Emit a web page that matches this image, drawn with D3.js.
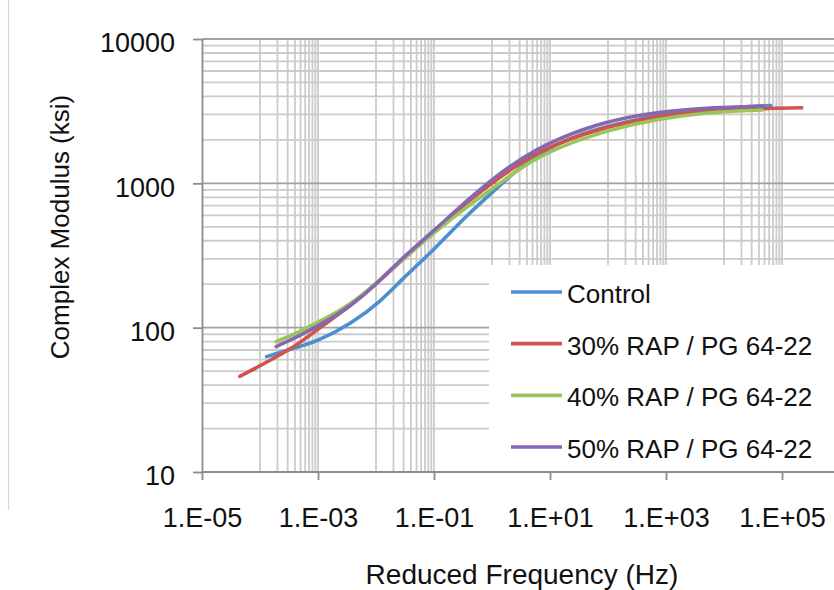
<!DOCTYPE html>
<html>
<head>
<meta charset="utf-8">
<script src="https://cdn.jsdelivr.net/npm/d3@7"></script>
<style>
    body { margin: 0; background: #fff; }
    svg { display: block; font-family: "Liberation Sans", Arial, Helvetica, sans-serif; }
    .gridMinor { stroke: #cbcbcb; stroke-width: 1.8; }
    .gridMajor { stroke: #a0a0a0; stroke-width: 1.8; }
    .axis path, .axis line { stroke: #8c8c8c; stroke-width: 1.8; }
    .axis text { fill: #111; }
    .curve { fill: none; stroke-width: 3.6; stroke-linecap: round; stroke-linejoin: round; }
</style>
</head>
<body>
<script>
(function () {
    //series names and colours
    var seriesNames = ["Control", "30% RAP / PG 64-22", "40% RAP / PG 64-22", "50% RAP / PG 64-22"];
    var seriesColors = ["#4c8fd0", "#d0544b", "#9cc45a", "#8668b0"];

    //reduced frequency (Hz) and complex modulus (ksi)
    var controlFreq = [1.3e-4, 3.8e-4, 9.5e-4, 3.6e-3, 0.013, 0.026, 0.10, 0.37, 1.4, 5.2, 38, 270, 2000, 14000, 64000];
    var controlModulus = [63, 72, 80, 105, 156, 211, 346, 604, 975, 1574, 2270, 2748, 3170, 3357, 3460];

    var rap30Freq = [4.5e-5, 3.8e-4, 9.5e-4, 3.6e-3, 0.013, 0.044, 0.097, 0.37, 1.4, 5.2, 38, 270, 2000, 14000, 220000];
    var rap30Modulus = [46, 72, 97, 140, 220, 346, 460, 743, 1110, 1615, 2220, 2730, 3090, 3260, 3340];

    var rap40Freq = [1.9e-4, 4.9e-4, 1.2e-3, 3.6e-3, 0.010, 0.026, 0.097, 0.37, 1.4, 5.2, 38, 270, 2000, 14000, 45000];
    var rap40Modulus = [80, 94, 113, 144, 203, 286, 451, 690, 1007, 1493, 2081, 2589, 2976, 3170, 3220];

    var rap50Freq = [1.9e-4, 4.9e-4, 1.2e-3, 3.6e-3, 0.010, 0.026, 0.097, 0.37, 1.4, 5.2, 38, 270, 2000, 14000, 47500];
    var rap50Modulus = [74, 88, 107, 140, 198, 295, 465, 762, 1188, 1700, 2420, 2950, 3260, 3365, 3436];

    //axis ticks
    var xTicks = [1e-5, 1e-3, 1e-1, 1e1, 1e3, 1e5];
    var yTicks = [10, 100, 1000, 10000];

    var width = 834,
        height = 590;

    var svg = d3.select("body")
        .append("svg")
        .attr("width", width)
        .attr("height", height);

    //log scales
    var x = d3.scaleLog()
        .domain([1e-5, 1e6])
        .range([202, 840]);
    var y = d3.scaleLog()
        .domain([10, 10000])
        .range([472, 39]);

    //faint chart-area border on the left
    svg.append("line")
        .attr("x1", 8.5).attr("x2", 8.5)
        .attr("y1", 0).attr("y2", 510)
        .style("stroke", "#d6d6d6")
        .style("stroke-width", 1.2);

    //horizontal minor gridlines (2..9 in each decade)
    var yMinor = [];
    for (var e = 1; e <= 3; e++) {
        for (var k = 2; k <= 9; k++) yMinor.push(k * Math.pow(10, e));
    }
    svg.selectAll(".hMinor")
        .data(yMinor)
        .enter()
        .append("line")
        .attr("class", "gridMinor")
        .attr("x1", x(1e-5)).attr("x2", width)
        .attr("y1", function (d) { return y(d); })
        .attr("y2", function (d) { return y(d); });

    //vertical gridlines: only in every other decade, like the original
    var xMinor = [];
    [-4, -2, 0, 2, 4].forEach(function (p) {
        for (var k = 1; k <= 10; k++) xMinor.push(k * Math.pow(10, p));
    });
    svg.selectAll(".vMinor")
        .data(xMinor)
        .enter()
        .append("line")
        .attr("class", "gridMinor")
        .attr("x1", function (d) { return x(d); })
        .attr("x2", function (d) { return x(d); })
        .attr("y1", y(10000)).attr("y2", y(10));

    //horizontal major gridlines
    svg.selectAll(".hMajor")
        .data(yTicks)
        .enter()
        .append("line")
        .attr("class", "gridMajor")
        .attr("x1", x(1e-5)).attr("x2", width)
        .attr("y1", function (d) { return y(d); })
        .attr("y2", function (d) { return y(d); });

    //x axis
    var xAxis = d3.axisBottom(x)
        .tickValues(xTicks)
        .tickSize(8)
        .tickSizeOuter(0)
        .tickPadding(28)
        .tickFormat(function (d) {
            var p = Math.round(Math.log10(d));
            var s = p < 0 ? "-" : "+";
            var a = Math.abs(p);
            return "1.E" + s + (a < 10 ? "0" : "") + a;
        });
    svg.append("g")
        .attr("class", "axis")
        .attr("transform", "translate(0," + y(10) + ")")
        .call(xAxis)
        .selectAll("text")
        .style("font-size", "27px");
    svg.select(".axis path").attr("d", "M" + x(1e-5) + ",0H" + width);

    //y axis
    var yAxis = d3.axisLeft(y)
        .tickValues(yTicks)
        .tickSize(9)
        .tickSizeOuter(0)
        .tickPadding(18)
        .tickFormat(d3.format("d"));
    svg.append("g")
        .attr("class", "axis")
        .attr("transform", "translate(" + x(1e-5) + ",0)")
        .call(yAxis)
        .selectAll("text")
        .attr("dy", "0.48em")
        .style("font-size", "27px");

    //build series from the arrays
    var freqs = [controlFreq, rap30Freq, rap40Freq, rap50Freq];
    var mods = [controlModulus, rap30Modulus, rap40Modulus, rap50Modulus];
    var series = seriesNames.map(function (name, i) {
        return {
            name: name,
            color: seriesColors[i],
            values: freqs[i].map(function (f, j) { return { f: f, m: mods[i][j] }; })
        };
    });

    //smoothed lines like the spreadsheet's
    var line = d3.line()
        .x(function (d) { return x(d.f); })
        .y(function (d) { return y(d.m); })
        .curve(d3.curveBasis);

    svg.selectAll(".curve")
        .data(series)
        .enter()
        .append("path")
        .attr("class", "curve")
        .attr("d", function (d) { return line(d.values); })
        .style("stroke", function (d) { return d.color; });

    //legend box covers the gridlines
    var legend = svg.append("g");
    legend.append("rect")
        .attr("x", 489).attr("y", 265)
        .attr("width", width - 489).attr("height", 206)
        .style("fill", "#fff");

    var legendY = d3.scalePoint()
        .domain(seriesNames)
        .range([292, 447]);

    var items = legend.selectAll(".item")
        .data(series)
        .enter()
        .append("g")
        .attr("transform", function (d) { return "translate(0," + legendY(d.name) + ")"; });
    items.append("line")
        .attr("x1", 511).attr("x2", 562)
        .style("stroke", function (d) { return d.color; })
        .style("stroke-width", 3.6);
    items.append("text")
        .attr("x", 567)
        .attr("y", 11)
        .style("font-size", "26px")
        .style("fill", "#111")
        .text(function (d) { return d.name; });

    //axis titles
    svg.append("text")
        .attr("transform", "rotate(-90)")
        .attr("x", -227)
        .attr("y", 69)
        .attr("text-anchor", "middle")
        .style("font-size", "26px")
        .style("fill", "#111")
        .text("Complex Modulus (ksi)");

    svg.append("text")
        .attr("x", 522)
        .attr("y", 584)
        .attr("text-anchor", "middle")
        .style("font-size", "28px")
        .style("fill", "#111")
        .text("Reduced Frequency (Hz)");
})();
</script>
</body>
</html>
